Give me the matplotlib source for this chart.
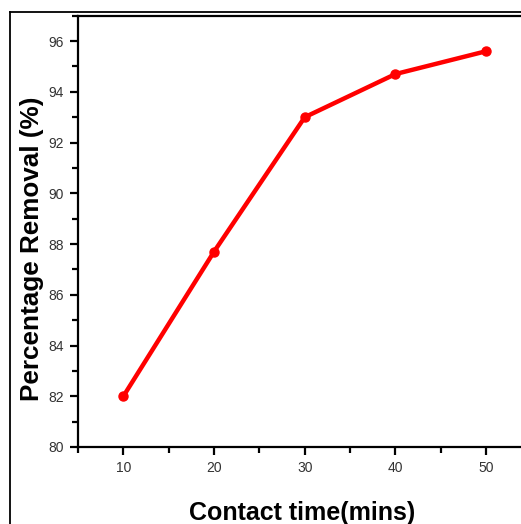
import matplotlib
matplotlib.use("Agg")
import matplotlib.pyplot as plt
from matplotlib.lines import Line2D
from matplotlib.ticker import MultipleLocator

contact_time = [10, 20, 30, 40, 50]
removal = [82.0, 87.7, 93.0, 94.7, 95.6]

W, H = 521, 524
fig = plt.figure(figsize=(W / 100, H / 100), dpi=100)
fig.patch.set_facecolor("white")

# axes placement (in pixels), right edge lies beyond the image like the reference crop
L, R, T, B = 78, 531.5, 15.7, 447
ax = fig.add_axes([L / W, 1 - B / H, (R - L) / W, (B - T) / H])

ax.plot(contact_time, removal, color="#ff0000", lw=3.2, marker="o", ms=6.5,
        solid_capstyle="round")

ax.set_xlim(5, 55)
ax.set_ylim(80, 97)
ax.xaxis.set_major_locator(MultipleLocator(10))
ax.xaxis.set_minor_locator(MultipleLocator(5))
ax.yaxis.set_major_locator(MultipleLocator(2))
ax.yaxis.set_minor_locator(MultipleLocator(1))

for s in ax.spines.values():
    s.set_linewidth(1.6)
ax.spines["right"].set_visible(False)

ax.tick_params(which="major", direction="out", length=6, width=1.6,
               labelsize=10, labelcolor="#333333", pad=4)
ax.tick_params(which="minor", direction="out", length=4, width=1.6)
for lab in ax.get_xticklabels() + ax.get_yticklabels():
    lab.set_fontfamily("Liberation Sans")

ax.set_ylabel("Percentage Removal (%)", fontsize=18.8, fontweight="bold",
              family="Liberation Sans")
ax.yaxis.set_label_coords((44 - L) / (R - L), (B - 249) / (B - T))
fig.text(302.5 / W, (H - 520) / H, "Contact time(mins)", fontsize=18,
         fontweight="bold", family="Liberation Sans", ha="center", va="baseline")

# outer frame lines (left and top)
fig.add_artist(Line2D([10 / W, 10 / W], [0, 1 - 12 / H], transform=fig.transFigure,
                      color="black", lw=1.3))
fig.add_artist(Line2D([10 / W, 1], [1 - 12 / H, 1 - 12 / H], transform=fig.transFigure,
                      color="black", lw=1.3))

fig.savefig("out.png", dpi=100)
